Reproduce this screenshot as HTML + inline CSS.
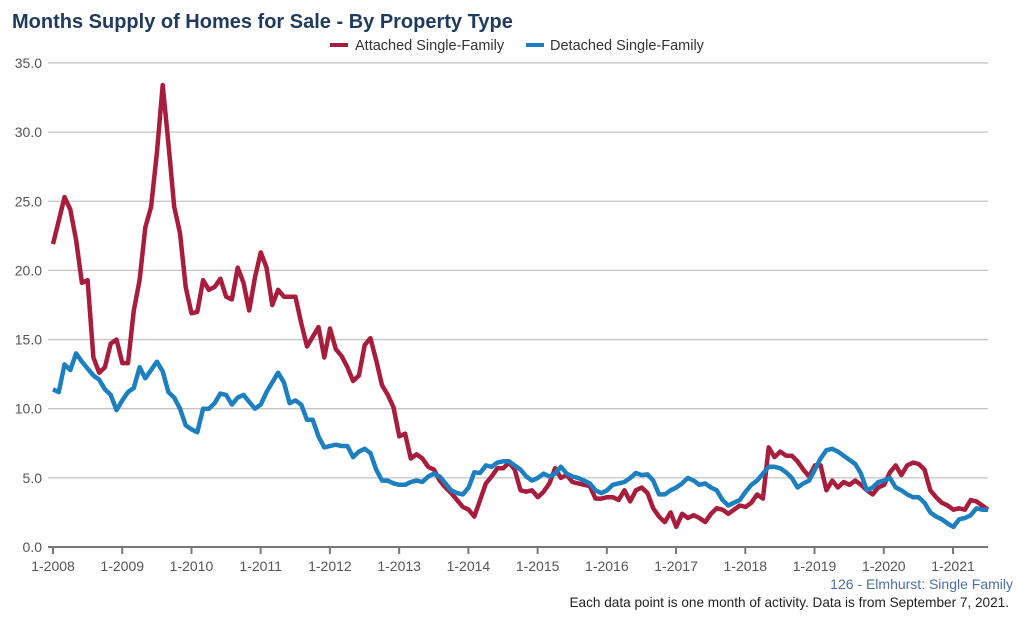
<!DOCTYPE html>
<html><head><meta charset="utf-8"><style>
body{margin:0;background:#fff;width:1022px;height:616px;overflow:hidden;font-family:"Liberation Sans",Arial,sans-serif}
</style></head><body>
<svg width="1022" height="616" xmlns="http://www.w3.org/2000/svg" font-family="Liberation Sans, Arial, sans-serif">
<text x="12" y="28" font-size="20" font-weight="bold" fill="#1f3a5f">Months Supply of Homes for Sale - By Property Type</text>
<line x1="330" y1="45" x2="348" y2="45" stroke="#a81c3c" stroke-width="4"/>
<text x="355" y="50" font-size="14.5" fill="#333">Attached Single-Family</text>
<line x1="526" y1="45" x2="544" y2="45" stroke="#1c7fc0" stroke-width="4"/>
<text x="550" y="50" font-size="14.5" fill="#333">Detached Single-Family</text>
<g id="grid" stroke="#c4c4c4" stroke-width="1.3"></g>
<g id="ylab" font-size="14" fill="#555" text-anchor="end"></g>
<g id="xax" font-size="14" fill="#555" text-anchor="middle"></g>
<polyline id="red" fill="none" stroke="#a81c3c" stroke-width="4.5" stroke-linejoin="round"/>
<polyline id="blue" fill="none" stroke="#1c7fc0" stroke-width="4.5" stroke-linejoin="round"/>
<text x="1013" y="589" font-size="14" fill="#4a6fa5" text-anchor="end">126 - Elmhurst: Single Family</text>
<text x="1009" y="607" font-size="13.6" fill="#222" text-anchor="end">Each data point is one month of activity. Data is from September 7, 2021.</text>
</svg>
<script>
var NS="http://www.w3.org/2000/svg";
function el(t,a,p,txt){var e=document.createElementNS(NS,t);for(var k in a)e.setAttribute(k,a[k]);if(txt!=null)e.textContent=txt;document.getElementById(p).appendChild(e);return e;}
function Y(v){return 547-v*13.83;}
for(var i=1;i<=7;i++){el('line',{x1:48,x2:988,y1:Y(i*5),y2:Y(i*5)},'grid');}
for(var i=0;i<=7;i++){el('text',{x:42,y:Y(i*5)+5},'ylab',(i*5).toFixed(1));}
el('line',{x1:48,x2:988,y1:547,y2:547,stroke:'#777','stroke-width':2},'xax');
for(var y=0;y<14;y++){var x=53+y*69.23;el('line',{x1:x,x2:x,y1:547,y2:554,stroke:'#777','stroke-width':2},'xax');el('text',{x:x,y:571},'xax','1-'+(2008+y));}
var red=[21.9,23.6,25.3,24.4,22.2,19.1,19.3,13.7,12.6,13.0,14.7,15.0,
13.3,13.3,17.1,19.3,23.1,24.6,28.5,33.4,29.2,24.6,22.7,18.8,
16.9,17.0,19.3,18.6,18.8,19.4,18.1,17.9,20.2,19.1,17.1,19.5,
21.3,20.2,17.5,18.6,18.1,18.1,18.1,16.2,14.5,15.2,15.9,13.7,
15.8,14.3,13.8,13.0,12.0,12.4,14.6,15.1,13.5,11.7,11.0,10.1,
8.0,8.2,6.4,6.7,6.4,5.8,5.6,4.8,4.3,3.9,3.4,2.9,
2.7,2.2,3.4,4.6,5.1,5.7,5.7,6.1,5.6,4.1,4.0,4.1,
3.6,4.0,4.6,5.7,5.0,5.2,4.7,4.6,4.5,4.4,3.5,3.5,
3.6,3.6,3.4,4.1,3.3,4.1,4.3,3.9,2.8,2.2,1.8,2.5,
1.45,2.4,2.1,2.3,2.1,1.8,2.4,2.8,2.7,2.4,2.7,3.0,
2.9,3.2,3.8,3.5,7.2,6.5,6.9,6.6,6.6,6.2,5.6,5.1,
5.9,5.9,4.1,4.8,4.3,4.7,4.5,4.8,4.5,4.1,3.8,4.3,
4.5,5.4,5.9,5.2,5.9,6.1,6.0,5.6,4.1,3.6,3.2,3.0,
2.7,2.8,2.7,3.4,3.3,3.0,2.7];
var blue=[11.4,11.2,13.2,12.8,14.0,13.4,12.9,12.4,12.1,11.4,11.0,9.9,
10.6,11.2,11.5,13.0,12.2,12.8,13.4,12.7,11.2,10.8,10.0,8.8,
8.5,8.3,10.0,10.0,10.4,11.1,11.0,10.3,10.8,11.0,10.5,10.0,
10.3,11.2,11.9,12.6,11.9,10.4,10.6,10.3,9.2,9.2,8.0,7.2,
7.3,7.4,7.3,7.3,6.5,6.9,7.1,6.8,5.6,4.8,4.8,4.6,
4.5,4.5,4.7,4.8,4.7,5.1,5.3,5.1,4.6,4.1,3.9,3.8,
4.3,5.4,5.35,5.9,5.8,6.1,6.2,6.2,5.9,5.6,5.1,4.8,
5.0,5.3,5.1,5.3,5.8,5.3,5.1,5.0,4.8,4.6,4.1,3.9,
4.1,4.5,4.6,4.7,5.0,5.35,5.2,5.25,4.8,3.8,3.8,4.1,
4.3,4.6,5.0,4.8,4.5,4.6,4.3,4.1,3.4,3.0,3.2,3.4,
4.0,4.5,4.8,5.3,5.8,5.8,5.7,5.4,5.0,4.3,4.6,4.8,
5.6,6.4,7.0,7.1,6.9,6.6,6.3,6.0,5.3,4.1,4.3,4.7,
4.8,5.0,4.3,4.1,3.8,3.6,3.6,3.2,2.5,2.2,2.0,1.7,
1.45,2.0,2.1,2.3,2.8,2.7,2.7];
function pts(a){var s=[];var step=(988-53)/(a.length-1);for(var i=0;i<a.length;i++)s.push((53+i*step).toFixed(1)+','+Y(a[i]).toFixed(1));return s.join(' ');}
document.getElementById('red').setAttribute('points',pts(red));
document.getElementById('blue').setAttribute('points',pts(blue));
</script>
</body></html>
